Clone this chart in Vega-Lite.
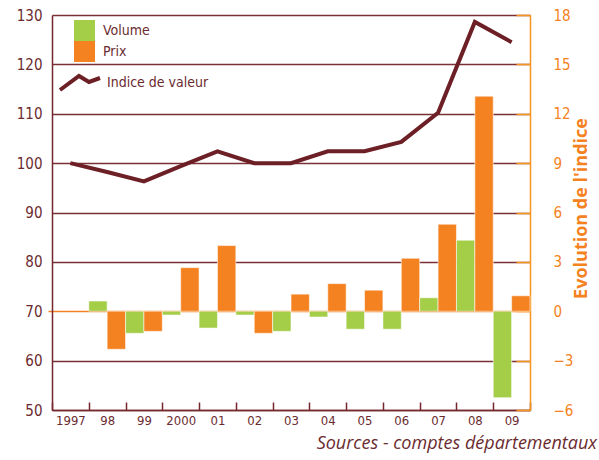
{
  "$schema": "https://vega.github.io/schema/vega-lite/v6.json",
  "width": 478,
  "height": 395,
  "autosize": "none",
  "padding": {"left": 52, "top": 15, "right": 69, "bottom": 50},
  "background": "white",
  "config": {
    "view": {"stroke": null},
    "font": "DejaVu Sans Condensed"
  },
  "title": {
    "text": "Sources - comptes départementaux",
    "orient": "bottom",
    "anchor": "end",
    "frame": "group",
    "dx": 67,
    "offset": 8,
    "font": "Open Sans",
    "fontStyle": "italic",
    "fontWeight": "normal",
    "fontSize": 18,
    "color": "#6b2b2f"
  },
  "datasets": {
    "barres": [
      {"annee": "98", "serie": "Volume", "valeur": 0.62},
      {"annee": "98", "serie": "Prix", "valeur": -2.31},
      {"annee": "99", "serie": "Volume", "valeur": -1.34},
      {"annee": "99", "serie": "Prix", "valeur": -1.22},
      {"annee": "2000", "serie": "Volume", "valeur": -0.23},
      {"annee": "2000", "serie": "Prix", "valeur": 2.65},
      {"annee": "01", "serie": "Volume", "valeur": -1.02},
      {"annee": "01", "serie": "Prix", "valeur": 3.99},
      {"annee": "02", "serie": "Volume", "valeur": -0.23},
      {"annee": "02", "serie": "Prix", "valeur": -1.34},
      {"annee": "03", "serie": "Volume", "valeur": -1.22},
      {"annee": "03", "serie": "Prix", "valeur": 1.04},
      {"annee": "04", "serie": "Volume", "valeur": -0.35},
      {"annee": "04", "serie": "Prix", "valeur": 1.68},
      {"annee": "05", "serie": "Volume", "valeur": -1.09},
      {"annee": "05", "serie": "Prix", "valeur": 1.28},
      {"annee": "06", "serie": "Volume", "valeur": -1.09},
      {"annee": "06", "serie": "Prix", "valeur": 3.22},
      {"annee": "07", "serie": "Volume", "valeur": 0.82},
      {"annee": "07", "serie": "Prix", "valeur": 5.29},
      {"annee": "08", "serie": "Volume", "valeur": 4.32},
      {"annee": "08", "serie": "Prix", "valeur": 13.07},
      {"annee": "09", "serie": "Volume", "valeur": -5.25},
      {"annee": "09", "serie": "Prix", "valeur": 0.94}
    ],
    "indice": [
      {"annee": "1997", "indice": 100},
      {"annee": "98", "indice": 98.2},
      {"annee": "99", "indice": 96.3},
      {"annee": "2000", "indice": 99.4},
      {"annee": "01", "indice": 102.4},
      {"annee": "02", "indice": 100},
      {"annee": "03", "indice": 100},
      {"annee": "04", "indice": 102.4},
      {"annee": "05", "indice": 102.4},
      {"annee": "06", "indice": 104.3},
      {"annee": "07", "indice": 110.2},
      {"annee": "08", "indice": 128.6},
      {"annee": "09", "indice": 124.5}
    ]
  },
  "layer": [
    {
      "data": {"name": "indice"},
      "mark": {"type": "line", "color": "#6d1f26", "strokeWidth": 4, "strokeJoin": "miter"},
      "encoding": {
        "x": {
          "field": "annee", "type": "nominal",
          "scale": {"domain": ["1997","98","99","2000","01","02","03","04","05","06","07","08","09"], "paddingInner": 0, "paddingOuter": 0},
          "axis": {
            "orient": "bottom", "title": null, "labelAngle": 0, "tickBand": "extent",
            "tickSize": -8, "tickWidth": 1.5, "tickColor": "#74272d",
            "domainColor": "#74272d", "domainWidth": 1.5,
            "labelPadding": 12, "labelFontSize": 13, "labelColor": "#6b2b2f",
            "labelFont": "DejaVu Sans Condensed", "grid": false
          }
        },
        "y": {
          "field": "indice", "type": "quantitative",
          "scale": {"domain": [50, 130], "nice": false, "zero": false},
          "axis": {
            "orient": "left", "title": null,
            "values": [50, 60, 70, 80, 90, 100, 110, 120, 130],
            "grid": true,
            "gridColor": {"condition": {"test": "datum.value === 70", "value": "#f58220"}, "value": "#7a3036"},
            "gridWidth": 1.5,
            "domainColor": "#74272d", "domainWidth": 1.5,
            "tickSize": 4,
            "tickColor": {"condition": {"test": "datum.value === 70", "value": "#f58220"}, "value": "transparent"},
            "tickWidth": 1.5,
            "labelPadding": 6, "labelFontSize": 15, "labelColor": "#6b2b2f",
            "labelFont": "DejaVu Sans Condensed"
          }
        },
        "stroke": {
          "datum": "Indice de valeur",
          "scale": {"range": ["#6d1f26"]},
          "legend": {
            "orient": "none", "legendX": 6, "legendY": 46, "title": null,
            "padding": 0,
            "symbolType": "M-1,0.35L-0.05,-0.35L0.45,-0.05L1,-0.25",
            "symbolSize": 1600, "symbolStrokeWidth": 4,
            "symbolFillColor": "transparent", "symbolStrokeColor": "#6d1f26",
            "labelOffset": 5, "labelFontSize": 14, "labelColor": "#6b2b2f",
            "labelFont": "DejaVu Sans Condensed"
          }
        }
      }
    },
    {
      "data": {"name": "barres"},
      "mark": {"type": "bar", "stroke": "white", "strokeWidth": 0.8, "strokeOpacity": 0.7},
      "encoding": {
        "x": {"field": "annee", "type": "nominal"},
        "xOffset": {"field": "serie", "type": "nominal", "scale": {"domain": ["Volume", "Prix"], "paddingInner": 0, "paddingOuter": 0}},
        "y": {
          "field": "valeur", "type": "quantitative",
          "scale": {"domain": [-6, 18], "nice": false, "zero": false},
          "axis": {
            "orient": "right",
            "values": [-6, -3, 0, 3, 6, 9, 12, 15, 18],
            "grid": false,
            "domainColor": "#f7941d", "domainWidth": 1.5,
            "tickColor": "#f7941d", "tickSize": -14, "tickWidth": 1.5,
            "labelPadding": 37, "labelFontSize": 15, "labelColor": "#f58220",
            "labelFont": "DejaVu Sans Condensed",
            "title": "Evolution de l'indice",
            "titleColor": "#f58220", "titleFont": "Open Sans", "titleFontWeight": "bold",
            "titleFontSize": 18, "titleAngle": 270,
            "titleX": 51, "titleY": 193, "titleAlign": "center", "titleBaseline": "middle"
          }
        },
        "fill": {
          "field": "serie", "type": "nominal",
          "scale": {"domain": ["Volume", "Prix"], "range": ["#a4cd48", "#f58220"]},
          "legend": {
            "orient": "none", "legendX": 22, "legendY": 5, "title": null,
            "padding": 0, "rowPadding": 0,
            "symbolType": "square", "symbolSize": 441, "symbolStrokeWidth": 0,
            "labelOffset": 8, "labelFontSize": 14, "labelColor": "#6b2b2f",
            "labelFont": "DejaVu Sans Condensed"
          }
        }
      }
    }
  ],
  "resolve": {"scale": {"y": "independent"}}
}
